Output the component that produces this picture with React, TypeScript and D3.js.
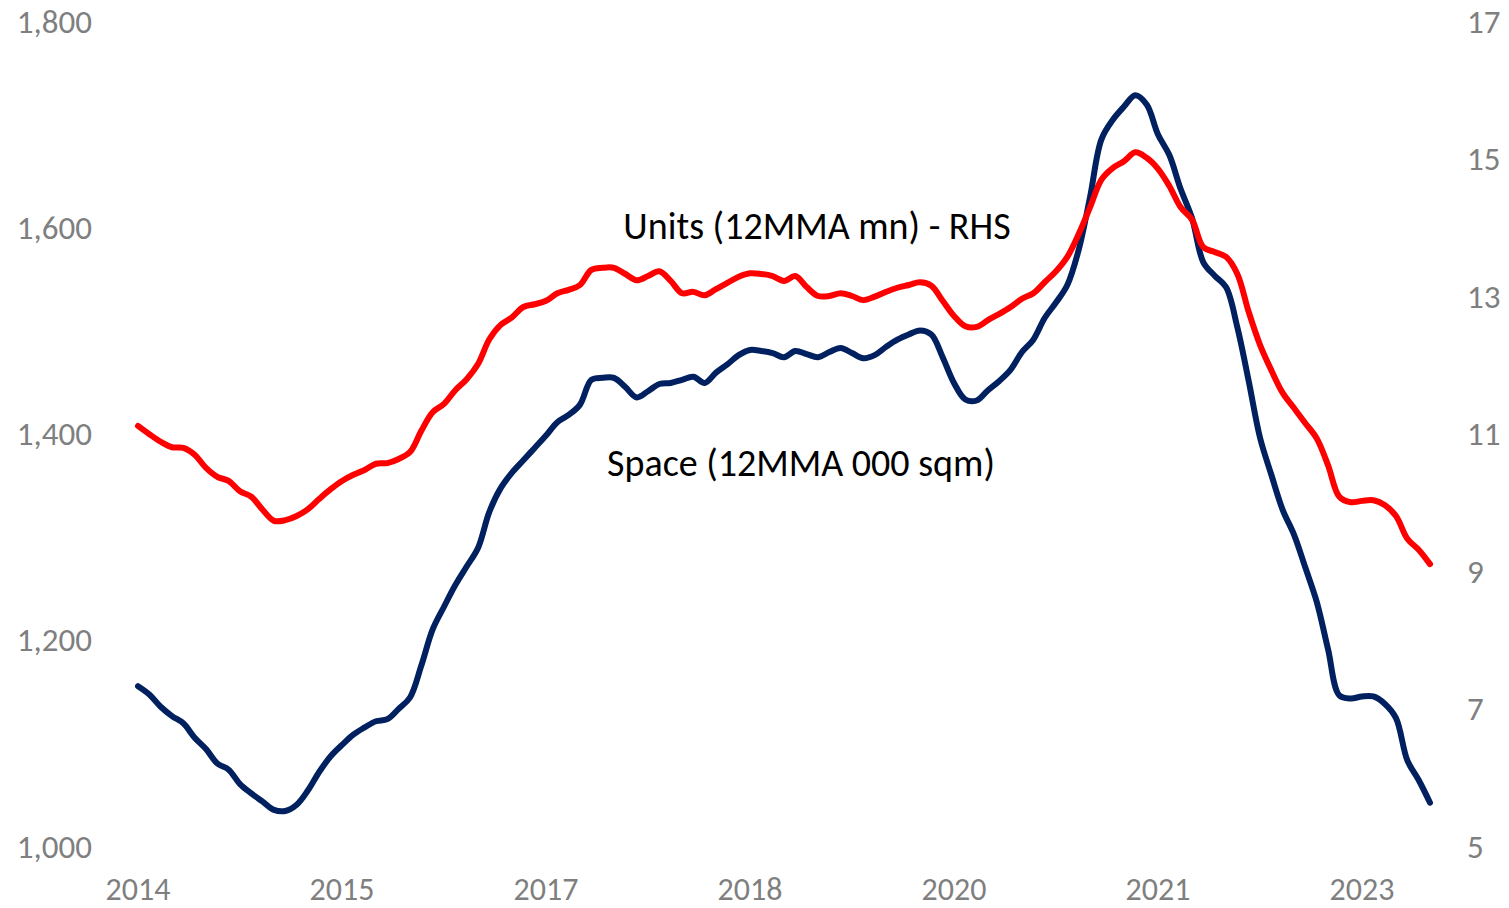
import * as d3 from "d3"
import React from "react"

// monthly, Jan 2014 .. Jul 2023
const startYear = 2014
const startMonth = 0

// Space (12MMA 000 sqm) - left axis
const space = [
  1155, 1147, 1135, 1126, 1119, 1105, 1094, 1080, 1074, 1060, 1051, 1043,
  1035, 1034, 1040, 1054, 1072, 1087, 1098, 1108, 1115, 1121, 1123, 1133,
  1144, 1175, 1210, 1232, 1253, 1271, 1289, 1324, 1347, 1362, 1374, 1386,
  1398, 1411, 1418, 1428, 1452, 1454, 1454, 1445, 1435, 1441, 1448, 1449,
  1452, 1455, 1449, 1459, 1467, 1476, 1481, 1480, 1478, 1474, 1480, 1477,
  1474, 1479, 1483, 1478, 1473, 1476, 1484, 1491, 1496, 1500, 1496, 1474,
  1449, 1433, 1432, 1442, 1451, 1462, 1479, 1491, 1512, 1527, 1544, 1578,
  1629, 1685, 1704, 1717, 1728, 1719, 1690, 1670, 1637, 1609, 1566, 1553,
  1542, 1503, 1451, 1396, 1360, 1326, 1302, 1270, 1237, 1191, 1146, 1143,
  1145, 1145, 1138, 1124, 1083, 1064, 1042,
]

// Units (12MMA mn) - right axis
const units = [
  11.11, 10.99, 10.88, 10.8, 10.79, 10.69, 10.5, 10.37, 10.31, 10.16, 10.08, 9.89,
  9.73, 9.74, 9.8, 9.9, 10.05, 10.19, 10.31, 10.4, 10.47, 10.56, 10.57, 10.63,
  10.73, 11.04, 11.31, 11.43, 11.63, 11.79, 12.01, 12.37, 12.58, 12.69, 12.84, 12.88,
  12.93, 13.04, 13.09, 13.16, 13.38, 13.41, 13.41, 13.32, 13.23, 13.29, 13.36, 13.22,
  13.04, 13.06, 13.01, 13.1, 13.19, 13.28, 13.33, 13.32, 13.29, 13.22, 13.29, 13.13,
  13.0, 13.0, 13.04, 13.0, 12.94, 12.99, 13.06, 13.12, 13.16, 13.2, 13.15, 12.93,
  12.71, 12.56, 12.55, 12.65, 12.74, 12.84, 12.96, 13.04, 13.2, 13.36, 13.57, 13.9,
  14.29, 14.69, 14.86, 14.96, 15.09, 15.01, 14.85, 14.6, 14.29, 14.11, 13.71, 13.64,
  13.57, 13.32, 12.77, 12.29, 11.92, 11.59, 11.37, 11.15, 10.93, 10.54, 10.08, 10.0,
  10.02, 10.03, 9.96, 9.8, 9.47, 9.31, 9.1,
]

const leftTicks = [1000, 1200, 1400, 1600, 1800]
const rightTicks = [5, 7, 9, 11, 13, 15, 17]
// x labels every 18 months
const xTickMonths = [0, 18, 36, 54, 72, 90, 108]

const W = 1509
const H = 908
const font = "Carlito, Calibri, Lato, sans-serif"
const tickSize = 33
const labelSize = 38

const App = () => {
  const x = d3.scaleLinear().domain([0, space.length - 1]).range([138, 1430])
  const yL = d3.scaleLinear().domain([1000, 1800]).range([846, 21])
  const yR = d3.scaleLinear().domain([5, 17]).range([846, 21])

  const spaceLine = d3.line<number>()
    .x((_, i) => x(i))
    .y((d) => yL(d))
    .curve(d3.curveCatmullRom.alpha(0.5))
  const unitsLine = d3.line<number>()
    .x((_, i) => x(i))
    .y((d) => yR(d))
    .curve(d3.curveCatmullRom.alpha(0.5))

  const yearOf = (m: number) => startYear + Math.floor((startMonth + m) / 12)
  const fmt = d3.format(",")

  return (
    <svg width={W} height={H} style={{ position: "absolute", left: 0, top: 0, background: "#fff" }}
      fontFamily={font}>
      {leftTicks.map((t) => (
        <text key={"l" + t} x={92} y={yL(t)} dy="0.35em" textAnchor="end" fontSize={tickSize} fill="#7f7f7f">
          {fmt(t)}
        </text>
      ))}
      {rightTicks.map((t) => (
        <text key={"r" + t} x={1467} y={yR(t)} dy="0.35em" textAnchor="start" fontSize={tickSize} fill="#7f7f7f">
          {t}
        </text>
      ))}
      {/* baseline kept so the glyph box stays inside the page */}
      {xTickMonths.map((m) => (
        <text key={"x" + m} x={x(m)} y={900} textAnchor="middle" fontSize={32} fill="#7f7f7f">
          {yearOf(m)}
        </text>
      ))}

      <path d={spaceLine(space) ?? ""} fill="none" stroke="#002060" strokeWidth={6}
        strokeLinecap="round" strokeLinejoin="round" />
      <path d={unitsLine(units) ?? ""} fill="none" stroke="#ff0000" strokeWidth={6}
        strokeLinecap="round" strokeLinejoin="round" />

      <text x={817} y={226} dy="0.35em" textAnchor="middle" fontSize={labelSize} fill="#000">
        Units (12MMA mn) - RHS
      </text>
      <text x={801} y={463} dy="0.35em" textAnchor="middle" fontSize={labelSize} fill="#000">
        Space (12MMA 000 sqm)
      </text>
    </svg>
  )
}

export default App
